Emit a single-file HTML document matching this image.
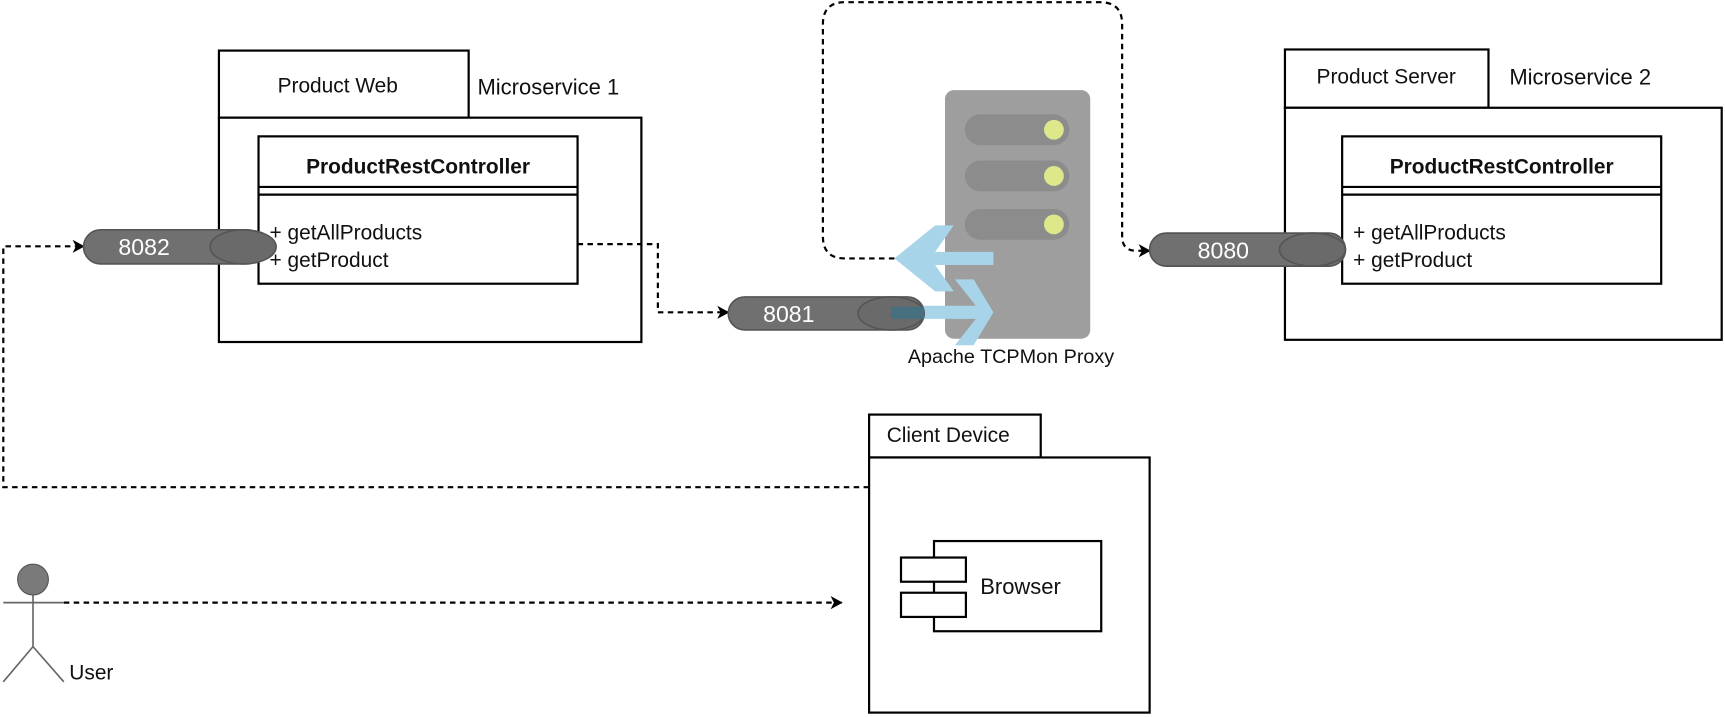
<!DOCTYPE html>
<html><head><meta charset="utf-8"><style>
html,body{margin:0;padding:0;background:#fff;width:1725px;height:717px;overflow:hidden}
svg{display:block}
text{font-family:"Liberation Sans",sans-serif;fill:#111}
</style></head><body>
<svg width="1725" height="717" viewBox="0 0 1568 652" preserveAspectRatio="none" xmlns="http://www.w3.org/2000/svg">
<defs>
<marker id="ah" markerWidth="14" markerHeight="14" refX="11" refY="7" orient="auto" markerUnits="userSpaceOnUse">
<path d="M1,1 L12,7 L1,13 L4,7 Z" fill="#000"/>
</marker>
</defs>
<g fill="none" stroke="#000" stroke-width="2">
<rect x="199" y="46" width="227" height="61" fill="#fff"/>
<rect x="199" y="107" width="384" height="204" fill="#fff"/>
<rect x="235" y="124" width="290" height="134" fill="#fff"/>
<line x1="235" y1="170" x2="525" y2="170"/>
<line x1="235" y1="177" x2="525" y2="177"/>
<rect x="1168" y="45" width="185" height="53" fill="#fff"/>
<rect x="1168" y="98" width="397" height="211" fill="#fff"/>
<rect x="1220" y="124" width="290" height="134" fill="#fff"/>
<line x1="1220" y1="170" x2="1510" y2="170"/>
<line x1="1220" y1="177" x2="1510" y2="177"/>
<rect x="790" y="377" width="156" height="39" fill="#fff"/>
<rect x="790" y="416" width="255" height="232" fill="#fff"/>
<rect x="849" y="492" width="152" height="82" fill="#fff"/>
<rect x="819" y="507" width="59" height="22" fill="#fff"/>
<rect x="819" y="539" width="59" height="22" fill="#fff"/>
</g>
<text x="307" y="84" font-size="19" text-anchor="middle">Product Web</text>
<text x="434" y="86" font-size="20">Microservice 1</text>
<text x="380" y="158" font-size="19" font-weight="bold" text-anchor="middle">ProductRestController</text>
<text x="245" y="218" font-size="19">+ getAllProducts</text>
<text x="245" y="243" font-size="19">+ getProduct</text>
<text x="1260" y="76" font-size="19" text-anchor="middle">Product Server</text>
<text x="1372" y="77" font-size="20">Microservice 2</text>
<text x="1365" y="158" font-size="19" font-weight="bold" text-anchor="middle">ProductRestController</text>
<text x="1230" y="218" font-size="19">+ getAllProducts</text>
<text x="1230" y="243" font-size="19">+ getProduct</text>
<text x="806" y="402" font-size="19">Client Device</text>
<text x="891" y="540" font-size="20">Browser</text>
<text x="63" y="618" font-size="19">User</text>
<text x="919" y="330" font-size="18" text-anchor="middle">Apache TCPMon Proxy</text>

<g fill="none" stroke="#000" stroke-width="2" stroke-dasharray="5,4">
<path d="M790,443 L3,443 L3,224 L76,224" marker-end="url(#ah)"/>
<path d="M525,222 L598,222 L598,284 L662,284" marker-end="url(#ah)"/>
<path d="M813,235 L768,235 Q748,235 748,215 L748,22 Q748,2 768,2 L1000,2 Q1020,2 1020,22 L1020,215 Q1020,228 1033,228 L1045,228" marker-end="url(#ah)"/>
<path d="M58,548 L765,548" marker-end="url(#ah)"/>
</g>

<rect x="859" y="82" width="132" height="226" rx="8" fill="#9e9e9e"/>
<rect x="877" y="104" width="95" height="28" rx="14" fill="#8c8c8c"/>
<rect x="877" y="146" width="95" height="28" rx="14" fill="#8c8c8c"/>
<rect x="877" y="190" width="95" height="28" rx="14" fill="#8c8c8c"/>
<circle cx="958" cy="118" r="9" fill="#dde88a"/>
<circle cx="958" cy="160" r="9" fill="#dde88a"/>
<circle cx="958" cy="204" r="9" fill="#dde88a"/>
<polygon points="903,229 850,229 867,205 850,205 813,235 850,265 867,265 850,241 903,241" fill="#a8d4ea"/>
<polygon points="840,278 887,278 868,254 885,254 903,284 885,314 868,314 887,290 840,290" fill="#a8d4ea"/>

<g stroke="#555" stroke-width="1.5">
<rect x="76" y="209" width="164" height="31" rx="15.5" fill="#707070"/>
<ellipse cx="221" cy="224.5" rx="30" ry="15.5" fill="#6a6a6a"/>
<rect x="662" y="270" width="178" height="30" rx="15" fill="#707070"/>
<ellipse cx="810" cy="285" rx="30" ry="15" fill="#6a6a6a"/>
<rect x="1045" y="212" width="178" height="30" rx="15" fill="#707070"/>
<ellipse cx="1193" cy="227" rx="30" ry="15" fill="#6a6a6a"/>
</g>
<rect x="810" y="279" width="30" height="11" fill="#466f80"/>
<text x="131" y="232" font-size="21" style="fill:#fff" text-anchor="middle">8082</text>
<text x="717" y="293" font-size="21" style="fill:#fff" text-anchor="middle">8081</text>
<text x="1112" y="235" font-size="21" style="fill:#fff" text-anchor="middle">8080</text>

<g stroke="#666" stroke-width="1.5" fill="none">
<line x1="30" y1="541" x2="30" y2="588"/>
<line x1="3" y1="548" x2="58" y2="548"/>
<line x1="30" y1="588" x2="3" y2="620"/>
<line x1="30" y1="588" x2="58" y2="620"/>
</g>
<ellipse cx="30" cy="527" rx="14" ry="14" fill="#7a7a7a" stroke="#555"/>
</svg>
</body></html>
